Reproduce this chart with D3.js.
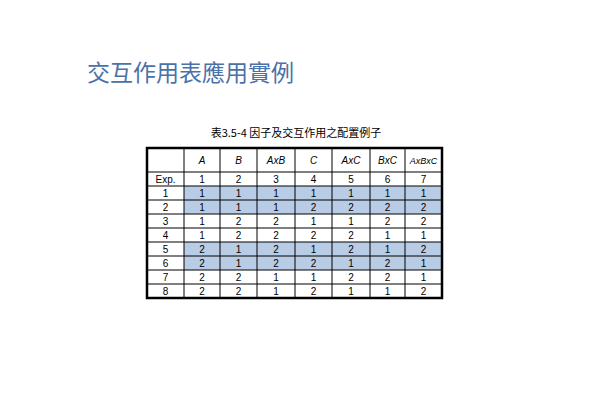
<!DOCTYPE html>
<html><head><meta charset="utf-8">
<script src="https://cdn.jsdelivr.net/npm/d3@7"></script>
<style>body{margin:0;background:#fff}</style></head>
<body><svg id="c" width="595" height="420"></svg>
<script>
const headers = ["", "A", "B", "AxB", "C", "AxC", "BxC", "AxBxC"];
const rowLabels = ["Exp.", "1", "2", "3", "4", "5", "6", "7", "8"];
const values = [
  [1,2,3,4,5,6,7],
  [1,1,1,1,1,1,1],
  [1,1,1,2,2,2,2],
  [1,2,2,1,1,2,2],
  [1,2,2,2,2,1,1],
  [2,1,2,1,2,1,2],
  [2,1,2,2,1,2,1],
  [2,2,1,1,2,2,1],
  [2,2,1,2,1,1,2]
];
const shadedRows = [1,2,5,6];
(function(){
const colEdges = [147,184,220,257,295,332,370,405,442];
const svg = d3.select("#c");
const font = "Liberation Sans, Arial, sans-serif";
svg.append("text").attr("x",87).attr("y",81).attr("font-family","Noto Sans CJK TC").attr("font-size",23).attr("fill","#4a72a8").text("交互作用表應用實例");
svg.append("text").attr("x",296).attr("y",137).attr("text-anchor","middle").attr("font-family","Noto Sans CJK TC").attr("font-size",11).attr("fill","#000").text("表3.5-4  因子及交互作用之配置例子");
const tableTop=148, headH=24, rowH=14;
const y = d3.scaleLinear().domain([0,9]).range([tableTop+headH, tableTop+headH+9*rowH]);
const g = svg.append("g");
shadedRows.forEach(r=>{
  g.append("rect").attr("x",colEdges[1]).attr("y",y(r)).attr("width",colEdges[8]-colEdges[1]).attr("height",rowH).attr("fill","#b9cce6");
});
headers.forEach((h,i)=>{
  if(!h) return;
  g.append("text").attr("x",(colEdges[i]+colEdges[i+1])/2).attr("y",tableTop+headH/2+4).attr("text-anchor","middle")
   .attr("font-family",font).attr("font-style","italic").attr("font-size",h.length>3?9:10).text(h);
});
rowLabels.forEach((l,r)=>{
  g.append("text").attr("x",(colEdges[0]+colEdges[1])/2).attr("y",y(r)+rowH/2+4).attr("text-anchor","middle").attr("font-family",font).attr("font-size",10).text(l);
  values[r].forEach((v,c)=>{
    g.append("text").attr("x",(colEdges[c+1]+colEdges[c+2])/2).attr("y",y(r)+rowH/2+4).attr("text-anchor","middle").attr("font-family",font).attr("font-size",10).text(v);
  });
});
const bottom = y(9);
colEdges.slice(1,-1).forEach(x=>g.append("line").attr("x1",x).attr("x2",x).attr("y1",tableTop).attr("y2",bottom).attr("stroke","#000").attr("stroke-width",1));
d3.range(0,9).forEach(r=>g.append("line").attr("x1",colEdges[0]).attr("x2",colEdges[8]).attr("y1",y(r)).attr("y2",y(r)).attr("stroke","#000").attr("stroke-width",1));
g.append("rect").attr("x",colEdges[0]).attr("y",tableTop).attr("width",colEdges[8]-colEdges[0]).attr("height",bottom-tableTop).attr("fill","none").attr("stroke","#000").attr("stroke-width",2.5);
})();
</script></body></html>
